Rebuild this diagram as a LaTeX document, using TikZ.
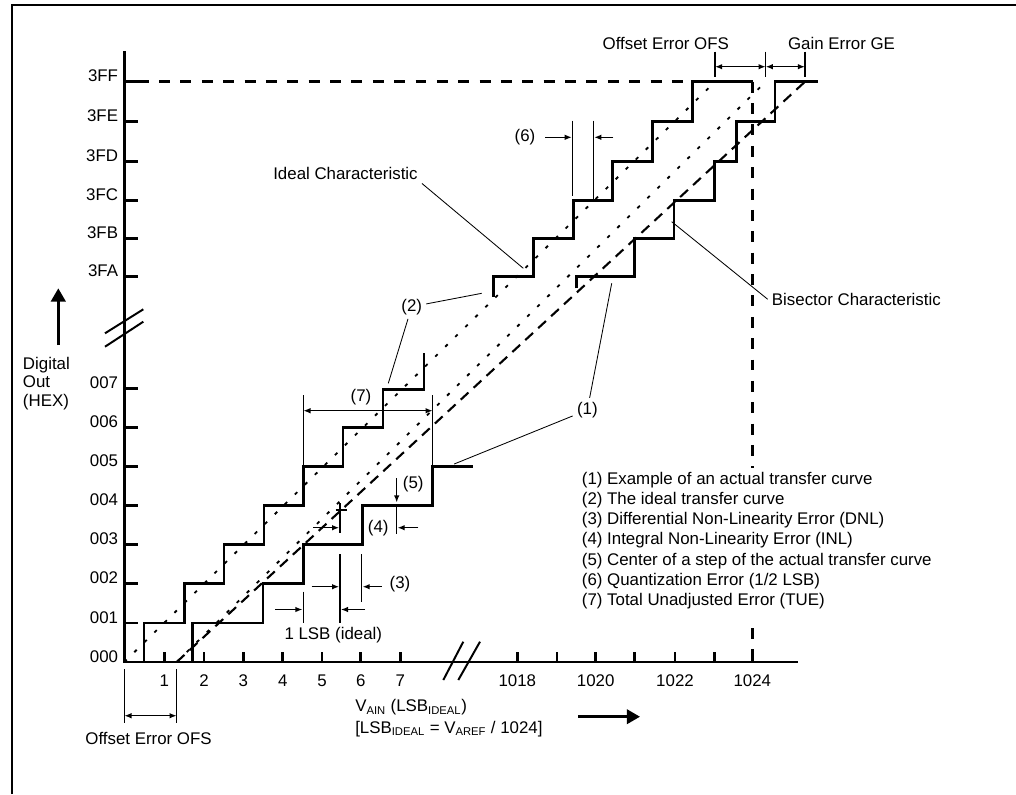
\documentclass[tikz,border=0pt]{standalone}
\usepackage{fontspec}
\setmainfont{Liberation Sans}
\usetikzlibrary{arrows.meta}

\begin{document}
\begin{tikzpicture}[
    x=0.25mm, y=-0.25mm,
    every node/.style={font=\fontsize{12}{14}\selectfont, inner sep=0pt},
    frameline/.style={draw=black, line width=1.4pt},
    axisline/.style={draw=black, line width=2pt},
    tick/.style={draw=black, line width=2pt},
    breakline/.style={draw=black, line width=1.4pt},
    stair/.style={draw=black, line width=2pt},
    limitline/.style={draw=black, line width=2pt, dash pattern=on 7.8pt off 7.4pt},
    idealline/.style={draw=black, line width=1.3pt, dash pattern=on 2.4pt off 7.6pt},
    bisector/.style={draw=black, line width=1.5pt, dash pattern=on 7.5pt off 5pt},
    guide/.style={draw=black, line width=1pt},
    lead/.style={draw=black, line width=0.6pt},
    label/.style={inner sep=1mm},
    dimarrow/.style={draw=black, line width=1pt, -{Latex[length=1.8mm, width=1.4mm]}},
    dimboth/.style={draw=black, line width=1pt,
                    {Latex[length=1.8mm, width=1.4mm]}-{Latex[length=1.8mm, width=1.4mm]}},
    bigarrow/.style={draw=black, line width=2pt, -{Triangle[length=3.3mm, width=3.6mm]}},
  ]
  \useasboundingbox (0,0) rectangle (1016,794);
  \draw[frameline] (12.3,794) -- (12.3,5) -- (1016,5);

  \draw[axisline] (124.3,51) -- (124.3,662) -- (798.3,662);
  \foreach \y in {81.7, 121.7, 161.7, 200.3, 238.3, 276.7, 388.3, 427.4, 466.5, 505.6, 544.7, 583.8, 623}
    { \draw[tick] (124.3,\y) -- (137.7,\y); }
  \foreach \y/\t [count=\i] in {81.7/3FF, 121.7/3FE, 161.7/3FD, 200.3/3FC, 238.3/3FB, 276.7/3FA,
                                388.3/007, 427.4/006, 466.5/005, 505.6/004, 544.7/003, 583.8/002, 623/001, 662/000}
    { \node[anchor=base east] (ylab\i) at (118.3,\y) {\t}; }
  \foreach \x in {164.3, 204, 243.3, 282.7, 322, 360.7, 400.3, 517.3, 557, 595.7, 634.3, 675, 714.3, 752.3}
    { \draw[tick] (\x,652) -- (\x,662); }
  \foreach \x/\t [count=\i] in {164.3/1, 204/2, 243.3/3, 282.7/4, 322/5, 360.7/6, 400.3/7,
                                517.3/1018, 595.7/1020, 675/1022, 752.3/1024}
    { \node[anchor=base] (xlab\i) at (\x,686) {\t}; }
  \draw[breakline] (105,333.3) -- (143.3,309.3) (105,346.7) -- (143.3,321.7);
  \draw[breakline] (443.3,680) -- (463.3,641.7) (458.3,680) -- (480,641.7);

  \draw[limitline] (137.7,81.7) -- (692.7,81.7);
  \draw[limitline] (752.7,81.7) -- (752.7,468.3);
  \draw[limitline] (752.7,628) -- (752.7,662);

  \draw[idealline] (124.3,662) -- (715,81.7);
  \draw[idealline] (176.7,662) -- (765.7,81.7);
  \draw[bisector] (176.7,662) -- (805,81.7);

  \draw[stair] (144,662) |- (184.7,623) |- (224,583.8) |- (264,544.7) |- (303.3,505.6)
    |- (343,466.5) |- (383,427.4) |- (424,389.5) -- (424,353);
  \draw[stair] (192.7,662) |- (263,623) |- (303.3,583.8) |- (362.7,544.7) |- (432.7,505.6)
    |- (472.7,466.5);
  \draw[stair] (493.3,296.7) |- (533.3,276.7) |- (573.3,238.3) |- (612.3,200.3) |- (652.7,161.7)
    |- (692.7,121.7) |- (753.3,81.7);
  \draw[stair] (576.7,288.3) |- (634.3,276.7) |- (674,238.3) |- (714.3,200.3) |- (736.7,161.7)
    |- (775,121.7) |- (818.3,81.7);

  \draw[guide] (715,51.7) -- (715,76.7) (765.7,51.7) -- (765.7,76.7) (805,51.7) -- (805,76.7);
  \draw[dimboth] (715,66.7) -- (765.7,66.7);
  \draw[dimboth] (765.7,66.7) -- (805,66.7);
  \node[anchor=base] (ofstop) at (665.8,49.3) {Offset Error OFS};
  \node[anchor=base] (getop) at (841.5,49.3) {Gain Error GE};

  \draw[guide] (572.7,120.7) -- (572.7,196) (593.3,120.7) -- (593.3,200);
  \draw[dimarrow] (545,137.3) -- (571.9,137.3);
  \draw[dimarrow] (613.3,137.3) -- (594.1,137.3);
  \node (q6) at (525,137.3) {(6)};

  \draw[guide] (303.3,395) -- (303.3,466.5) (432.7,395) -- (432.7,466.5);
  \draw[dimboth] (303.3,410.7) -- (432.7,410.7);
  \node (q7) at (361,396.7) {(7)};

  \draw[dimarrow] (396.7,478.3) -- (396.7,502.5);
  \draw[guide] (396.7,505.6) -- (396.7,534);
  \node (q5) at (413.3,484) {(5)};

  \draw[guide] (340,503.3) -- (340,533.3) (335.5,510) -- (346.7,510);
  \draw[dimarrow] (313.3,527.7) -- (339.2,527.7);
  \draw[dimarrow] (418.3,527.7) -- (397.5,527.7);
  \node (q4) at (378.3,527.7) {(4)};

  \draw[guide] (340,554) -- (340,623.3) (361.7,554) -- (361.7,601.7);
  \draw[dimarrow] (311.7,586.7) -- (339.2,586.7);
  \draw[dimarrow] (381.7,586.7) -- (362.5,586.7);
  \node (q3) at (400,584) {(3)};

  \draw[guide] (303.3,591.7) -- (303.3,623.3);
  \draw[dimarrow] (275,609.5) -- (302.5,609.5);
  \draw[dimarrow] (365,609.5) -- (340.8,609.5);
  \node[anchor=base] (lsbtxt) at (333.3,639.3) {1 LSB (ideal)};

  \draw[guide] (124.3,669) -- (124.3,722.7) (176.7,669) -- (176.7,722.7);
  \draw[dimboth] (124.3,715.7) -- (176.7,715.7);
  \node[anchor=base] (ofsbot) at (148.5,744.3) {Offset Error OFS};

  \node[label, anchor=center] (idealtxt) at (345.5,173) {Ideal Characteristic};
  \coordinate (idealpt) at (523.3,268.3);
  \draw[lead] (idealtxt.south east) -- (idealpt);
  \node[label, anchor=base west] (bisectxt) at (767.7,305.3) {Bisector Characteristic};
  \coordinate (bisecpt) at (671.7,221.7);
  \draw[lead] (bisectxt.west) -- (bisecpt);

  \node[label] (q2) at (411.7,306.7) {(2)};
  \coordinate (ideal3fa) at (481.7,293.3);
  \coordinate (ideal007) at (388.3,383.3);
  \draw[lead] (q2) -- (ideal3fa);
  \draw[lead] (q2) -- (ideal007);

  \node[label] (q1) at (587.3,410) {(1)};
  \coordinate (actual3fa) at (611.7,283.3);
  \coordinate (actual005) at (454.2,464);
  \draw[lead] (q1) -- (actual3fa);
  \draw[lead] (q1) -- (actual005);

  \foreach \t [count=\i] in {{(1) Example of an actual transfer curve}, {(2) The ideal transfer curve},
      {(3) Differential Non-Linearity Error (DNL)}, {(4) Integral Non-Linearity Error (INL)},
      {(5) Center of a step of the actual transfer curve}, {(6) Quantization Error (1/2 LSB)},
      {(7) Total Unadjusted Error (TUE)}}
    { \node[anchor=base west] (leg\i) at (581.6,{484.3+20.2*(\i-1)}) {\t}; }

  \node[anchor=west, align=left, font=\fontsize{12}{13.3}\selectfont] (ytitle) at (22.7,383.6)
    {Digital\\Out\\(HEX)};
  \draw[bigarrow] (58.3,345) -- (58.3,288.3);

  \node[anchor=base west] (vain1) at (355,711.7) {V\textsubscript{AIN} (LSB\textsubscript{IDEAL})};
  \node[anchor=base west] (vain2) at (355,733.3)
    {[LSB\textsubscript{IDEAL} = V\textsubscript{AREF} / 1024]};
  \draw[bigarrow] (578.3,716.7) -- (640,716.7);
\end{tikzpicture}
\end{document}
